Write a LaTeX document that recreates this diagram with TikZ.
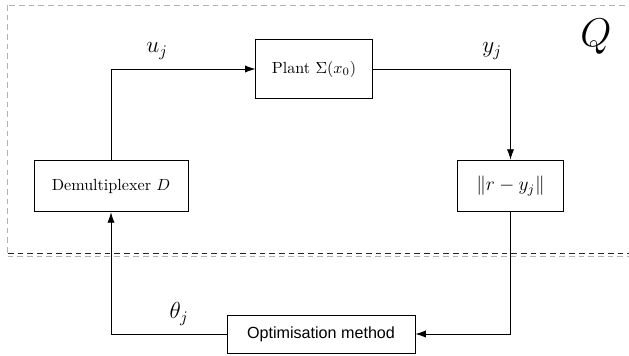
\documentclass[tikz,border=0pt]{standalone}
\usepackage{fontspec}
\newfontfamily\optfont{Liberation Sans}
\usetikzlibrary{arrows.meta}
\begin{document}
\begin{tikzpicture}[
        x=0.62pt, y=-0.62pt,
        block/.style={draw, line width=0.55pt, inner sep=2pt, text centered},
        link/.style={draw, line width=0.55pt, -{Latex[length=6.5pt,width=4.5pt]}},
        frame/.style={dash pattern=on 3.5pt off 2.5pt, line width=0.5pt},
    ]
    \useasboundingbox (0,0) rectangle (629,356);
    % dashed region Q
    \draw[frame, gray!60] (7,5) rectangle (660,256);
    \draw[frame, black!85] (8,253) -- (629,253);
    \node at (596,37) (q) {\Huge $Q$};

    \node[block, minimum width=72pt, minimum height=37pt] at (314,69) (plant) {Plant $\Sigma(x_0)$};
    \node[block, minimum width=95.5pt, minimum height=32pt] at (111,186) (demux) {Demultiplexer $D$};
    \node[block, minimum width=66pt, minimum height=32pt] at (510.5,186) (norm) {\large $\|r-y_j\|$};
    \node[block, minimum width=116.5pt, minimum height=23.5pt] at (321,334) (optim) {\optfont Optimisation method};

    \draw[link] (demux.north) |- (plant.west);
    \draw[link] (plant.east) -| (norm.north);
    \draw[link] (norm.south) |- (optim.east);
    \draw[link] (optim.west) -| (demux.south);

    \node at (157,51) (u) {\Large $u_j$};
    \node at (492,51) (y) {\Large $y_j$};
    \node at (179,314) (theta) {\Large $\theta_j$};
\end{tikzpicture}
\end{document}
